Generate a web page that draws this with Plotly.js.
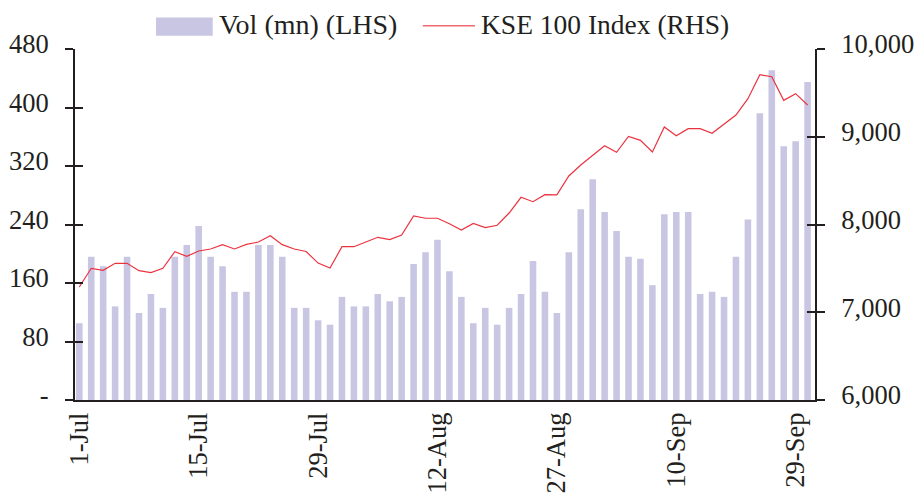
<!DOCTYPE html>
<html>
<head>
<meta charset="utf-8">
<script src="https://cdn.plot.ly/plotly-3.0.1.min.js"></script>
<style>html,body{margin:0;padding:0;background:#fff;}#chart{width:917px;height:493px;}</style>
</head>
<body>
<div id="chart"></div>
<script>
const dates = [
 "1-Jul","2-Jul","3-Jul","4-Jul","5-Jul","8-Jul","9-Jul","10-Jul","11-Jul","12-Jul",
 "15-Jul","16-Jul","17-Jul","18-Jul","19-Jul","22-Jul","23-Jul","24-Jul","25-Jul","26-Jul",
 "29-Jul","30-Jul","31-Jul","1-Aug","2-Aug","5-Aug","6-Aug","7-Aug","8-Aug","9-Aug",
 "12-Aug","13-Aug","15-Aug","16-Aug","19-Aug","20-Aug","21-Aug","22-Aug","23-Aug","26-Aug",
 "27-Aug","28-Aug","29-Aug","30-Aug","2-Sep","3-Sep","4-Sep","5-Sep","6-Sep","9-Sep",
 "10-Sep","11-Sep","12-Sep","13-Sep","16-Sep","17-Sep","18-Sep","19-Sep","23-Sep","26-Sep",
 "29-Sep","30-Sep"
];
const volume = [
 105,196,183,128,196,119,145,126,196,212,
 238,196,183,148,148,212,212,196,126,126,
 109,103,141,128,128,145,135,141,186,202,
 219,176,141,105,126,103,126,145,190,148,
 119,202,261,302,257,231,196,193,157,254,
 257,257,145,148,141,196,247,392,451,347,
 354,435
];
const kse = [
 7288,7501,7478,7558,7558,7474,7451,7501,7690,7637,
 7698,7721,7770,7721,7774,7800,7872,7770,7721,7692,
 7560,7504,7747,7747,7800,7854,7827,7880,8097,8071,
 8071,8009,7937,8013,7964,7991,8131,8310,8260,8340,
 8338,8553,8678,8792,8898,8823,9003,8959,8826,9111,
 9012,9092,9092,9039,9149,9248,9434,9707,9684,9415,
 9491,9362
];
const xTickLabels = ["1-Jul","15-Jul","29-Jul","12-Aug","27-Aug","10-Sep","29-Sep"];
const volTicks = [0,80,160,240,320,400,480];
const volTickText = ["-","80","160","240","320","400","480"];
const kseTicks = [6000,7000,8000,9000,10000];
const kseTickText = ["6,000","7,000","8,000","9,000","10,000"];
const seriesNames = ["Vol (mn) (LHS)", "KSE 100 Index (RHS)"];

const FONT = "Liberation Serif";
const INK = "#231F20";
const BAR = "#C8C6E2";
const RED = "#EB3340";
const TICKSIZE = 26.5;

const traces = [
 {type:"bar", x:dates, y:volume, name:seriesNames[0], marker:{color:BAR}, width:0.55, yaxis:"y", showlegend:false},
 {type:"scatter", mode:"lines", x:dates, y:kse, name:seriesNames[1], line:{color:RED, width:1.2}, yaxis:"y2", showlegend:false},
 {type:"scatter", x:[dates[0]], y:[null], yaxis:"y3", showlegend:false, hoverinfo:"skip"},
 {type:"scatter", x:[dates[0]], y:[null], yaxis:"y4", showlegend:false, hoverinfo:"skip"}
];

const yCommon = {showgrid:false, zeroline:false, ticklen:8, tickwidth:2, tickcolor:INK, fixedrange:true,
  tickfont:{family:FONT, size:TICKSIZE, color:INK}};
const layout = {
 width:917, height:493,
 margin:{l:75, r:102, t:49, b:93, autoexpand:false},
 paper_bgcolor:"#fff", plot_bgcolor:"#fff",
 font:{family:FONT, size:TICKSIZE, color:INK},
 showlegend:false,
 bargap:0.45,
 xaxis:{type:"category", categoryorder:"array", categoryarray:dates, range:[-0.36,61.62],
   tickmode:"array", tickvals:xTickLabels, ticktext:xTickLabels, tickangle:-90, ticks:"",
   showline:true, linecolor:INK, linewidth:2, showgrid:false, zeroline:false,
   tickfont:{family:FONT, size:TICKSIZE, color:INK}},
 yaxis:Object.assign({}, yCommon, {range:[0,480], tickmode:"array", tickvals:volTicks, ticktext:volTickText,
   ticks:"outside", showline:true, linecolor:INK, linewidth:2, side:"left", ticklabelstandoff:11, ticklabelshift:-5}),
 yaxis3:Object.assign({}, yCommon, {range:[0,480], tickmode:"array", tickvals:volTicks, showticklabels:false,
   ticks:"inside", overlaying:"y", side:"left", showline:false}),
 yaxis2:Object.assign({}, yCommon, {range:[6000,10000], tickmode:"array", tickvals:kseTicks, ticktext:kseTickText,
   ticks:"outside", showline:true, linecolor:INK, linewidth:2, overlaying:"y", side:"right", ticklabelstandoff:11, ticklabelshift:-5}),
 yaxis4:Object.assign({}, yCommon, {range:[6000,10000], tickmode:"array", tickvals:kseTicks, showticklabels:false,
   ticks:"inside", overlaying:"y", side:"right", showline:false}),
 // legend drawn as key shapes + labels (paper coordinates)
 shapes:[
   {type:"rect", xref:"paper", yref:"paper", x0:0.1095, x1:0.1861, y0:1.038, y1:1.090, fillcolor:BAR, line:{width:0}},
   {type:"line", xref:"paper", yref:"paper", x0:0.4699, x1:0.5405, y0:1.0664, y1:1.0664, line:{color:"#EE6A70", width:1.5}}
 ],
 annotations:[
   {xref:"paper", yref:"paper", x:0.1915, y:1.069, xanchor:"left", yanchor:"middle", showarrow:false,
    text:seriesNames[0], font:{family:FONT, size:28, color:INK}},
   {xref:"paper", yref:"paper", x:0.5462, y:1.069, xanchor:"left", yanchor:"middle", showarrow:false,
    text:seriesNames[1], font:{family:FONT, size:27.5, color:INK}}
 ]
};

Plotly.newPlot("chart", traces, layout, {displayModeBar:false, staticPlot:true});
</script>
</body>
</html>
